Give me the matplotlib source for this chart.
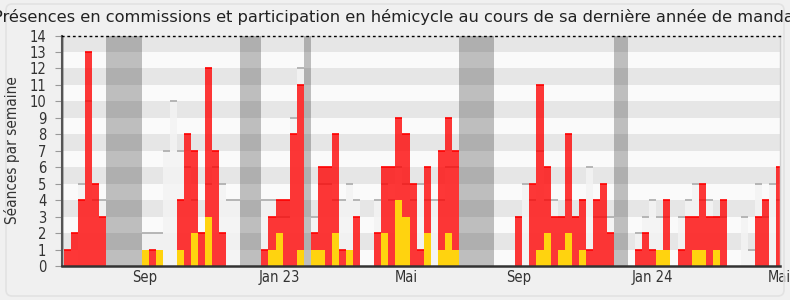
import matplotlib
matplotlib.use("Agg")
import matplotlib.pyplot as plt
from matplotlib.patches import FancyBboxPatch
from matplotlib.transforms import IdentityTransform
import numpy as np

title = "Présences en commissions et participation en hémicycle au cours de sa dernière année de mandat"
ylabel = "Séances par semaine"

# weekly values (one entry per week)
hemicycle = [1, 2, 4, 13, 5, 3, 0, 0, 0, 0,
             0, 0, 1, 0, 0, 0, 4, 8, 7, 2,
             12, 7, 2, 0, 0, 0, 0, 0, 1, 3,
             4, 4, 8, 11, 0, 2, 6, 6, 8, 1,
             0, 3, 0, 0, 2, 6, 6, 9, 8, 5,
             1, 6, 0, 7, 9, 7, 0, 0, 0, 0,
             0, 0, 0, 0, 3, 0, 5, 11, 6, 3,
             3, 8, 3, 4, 1, 4, 5, 2, 0, 0,
             0, 1, 2, 1, 0, 4, 0, 1, 3, 3,
             5, 3, 3, 4, 0, 0, 0, 0, 3, 4,
             0, 6]
commission = [0, 0, 0, 0, 0, 0, 0, 0, 0, 0,
              0, 1, 0, 1, 0, 0, 1, 0, 2, 0,
              3, 0, 0, 0, 0, 0, 0, 0, 0, 1,
              2, 0, 0, 1, 0, 1, 1, 0, 2, 0,
              1, 0, 0, 0, 0, 2, 0, 4, 3, 0,
              0, 2, 0, 1, 2, 1, 0, 0, 0, 0,
              0, 0, 0, 0, 0, 0, 0, 1, 2, 0,
              1, 2, 0, 1, 0, 0, 0, 0, 0, 0,
              0, 0, 0, 0, 1, 1, 0, 0, 0, 1,
              1, 0, 1, 0, 0, 0, 0, 0, 0, 0,
              0, 0]
median_all = [0, 0, 5, 10, 4, 4, 0, 0, 0, 0,
              0, 2, 2, 2, 7, 10, 7, 6, 4, 2,
              5, 6, 5, 4, 4, 0, 0, 0, 4, 4,
              3, 3, 9, 12, 0, 3, 5, 5, 4, 4,
              5, 4, 0, 0, 4, 5, 4, 6, 5, 4,
              5, 4, 4, 4, 6, 6, 0, 0, 0, 0,
              0, 0, 0, 0, 3, 5, 4, 7, 4, 4,
              3, 4, 3, 4, 6, 3, 3, 3, 0, 0,
              0, 2, 3, 4, 3, 3, 0, 3, 4, 5,
              4, 4, 3, 3, 0, 0, 3, 1, 5, 3,
              5, 4]
vacation_weeks = [-1, 6, 7, 8, 9, 10, 25, 26, 27, 34, 56, 57, 58, 59, 60, 78, 79]
tick_weeks = [11, 30, 48, 64, 83, 101]
tick_labels = ["Sep", "Jan 23", "Mai", "Sep", "Jan 24", "Mai"]

W, H = 790, 300
fig = plt.figure(figsize=(W / 100, H / 100), dpi=100)
fig.patch.set_facecolor("#f0f0f0")
fig.patches.append(FancyBboxPatch((6, 4), 778, 292, boxstyle="round,pad=0,rounding_size=6",
                                  transform=IdentityTransform(), facecolor="none",
                                  edgecolor="#e2e2e2", linewidth=1.2))

ax = fig.add_axes([61.5 / W, 1 - 266 / H, (780 - 61.5) / W, (266 - 35.5) / H])
ax.set_facecolor("#fafafa")
x = np.arange(len(hemicycle))

# vacation bands
for v in vacation_weeks:
    ax.axvspan(v - 0.5, v + 0.5, color="#bebebe", lw=0, zorder=0.5)
# stripes
for k in range(1, 14, 2):
    ax.axhspan(k, k + 1, color="black", alpha=0.08, lw=0, zorder=1)

med = np.array(median_all)
hem = np.array(hemicycle)
com = np.array(commission)
ax.bar(x, med, width=1.0, color="#f3f3f3", alpha=0.85, lw=0, zorder=2)
mm = med > 0
ax.hlines(med[mm], x[mm] - 0.5, x[mm] + 0.5, color="#b0b0b0", lw=1.3, zorder=2.5)
ax.bar(x, hem, width=1.0, color=(1, 0, 0, 0.78), lw=0, zorder=3)
hm = hem > 0
ax.hlines(hem[hm], x[hm] - 0.5, x[hm] + 0.5, color="#ff0000", lw=1.2, zorder=3.5)
ax.bar(x, com, width=1.0, color="#ffd30f", lw=0, zorder=4)

ax.set_xlim(-0.85, 101.03)
ax.set_ylim(0, 14)
ax.set_yticks(range(0, 15))
ax.set_xticks(tick_weeks)
ax.set_xticklabels(tick_labels)
ax.tick_params(axis="y", length=5, color="#999999", pad=6, labelsize=10.5, labelcolor="#333333")
ax.tick_params(axis="x", length=0, pad=3, labelsize=10.5, labelcolor="#333333")
for lab in ax.get_xticklabels() + ax.get_yticklabels():
    lab.set_fontstretch("condensed")

ax.spines["left"].set_color("#555555")
ax.spines["left"].set_linewidth(1.5)
ax.spines["bottom"].set_color("#333333")
ax.spines["bottom"].set_linewidth(1.8)
ax.spines["right"].set_color("#d0d0d0")
ax.spines["right"].set_linewidth(1)
ax.spines["top"].set_color("#000000")
ax.spines["top"].set_linewidth(1)
ax.spines["top"].set_linestyle((0, (1, 3)))
for s in ax.spines.values():
    s.set_zorder(6)

fig.text(12 / W, 1 - 150 / H, ylabel, rotation=90, ha="center", va="center",
         fontsize=11, color="#333333", fontstretch="condensed")
fig.text(397 / W, 1 - 17 / H, title, ha="center", va="center", fontsize=11.7, color="#222222")

fig.savefig("out.png", dpi=100, facecolor=fig.get_facecolor())
